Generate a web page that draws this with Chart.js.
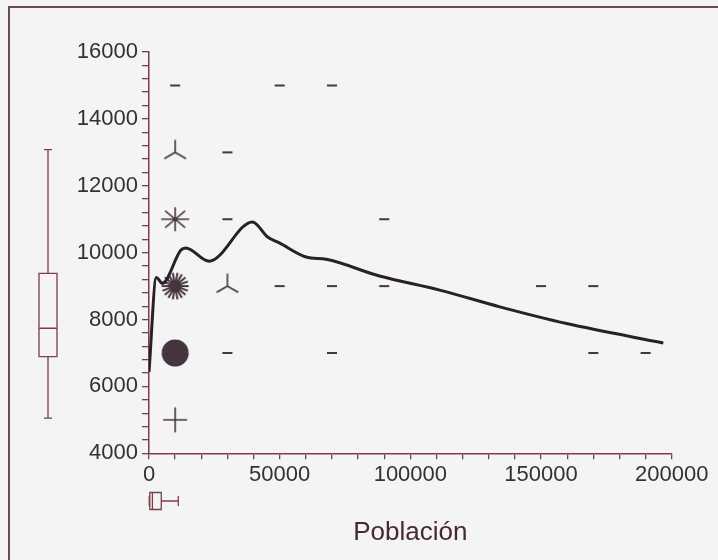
<!DOCTYPE html>
<html><head><meta charset="utf-8">
<script src="https://cdn.jsdelivr.net/npm/chart.js@4/dist/chart.umd.min.js"></script>
<style>html,body{margin:0;padding:0;background:#f5f4f4;}canvas{display:block;}</style>
</head><body>
<canvas id="c" width="718" height="560"></canvas>
<script>
// ---- data ----
const lineX = [0, 2800, 5100, 12150, 14070, 23000, 39600, 45400, 49900, 60100, 67800, 88200, 111200, 134200, 159800, 196800];
const lineY = [6430, 9260, 9080, 10070, 10140, 9745, 10920, 10470, 10290, 9870, 9800, 9300, 8880, 8380, 7880, 7300];

// sunflower cells: centre x, centre y, number of observations (petals)
const flowerX = [10000, 50000, 70000, 10000, 30000, 10000, 30000, 90000, 10000, 30000, 50000, 70000, 90000, 150000, 170000, 10000, 30000, 70000, 170000, 190000, 10000];
const flowerY = [15000, 15000, 15000, 13000, 13000, 11000, 11000, 11000, 9000, 9000, 9000, 9000, 9000, 9000, 9000, 7000, 7000, 7000, 7000, 7000, 5000];
const flowerN = [2, 2, 2, 3, 2, 8, 2, 2, 18, 3, 2, 2, 2, 2, 2, 60, 2, 2, 2, 2, 4];

// marginal box plots: min, q1, median, q3, max
const yBox = [5050, 6890, 7740, 9380, 13080];
const xBox = [100, 300, 1300, 4700, 11200];

const xLabelValues = [0, 50000, 100000, 150000, 200000];
const yLabelValues = [4000, 6000, 8000, 10000, 12000, 14000, 16000];
const xTitle = 'Población';

// ---- styling ----
const BG = '#f5f4f4';
const AXIS = '#7a3e48';
const MARK = '#44363f';
const LINE = '#2a2028';
const TXT = '#353033';
const FONT = "'Liberation Sans', Arial, sans-serif";

const cache = {};
function flower(n) {
  if (cache[n]) return cache[n];
  const c = document.createElement('canvas');
  c.width = 36; c.height = 36;
  const g = c.getContext('2d');
  g.translate(18, 18);
  g.strokeStyle = MARK; g.fillStyle = MARK;
  const rays = (list, w) => {
    g.lineWidth = w;
    g.beginPath();
    list.forEach(([d, len]) => {
      const a = d * Math.PI / 180;
      g.moveTo(0, 0);
      g.lineTo(Math.cos(a) * len, -Math.sin(a) * len);
    });
    g.stroke();
  };
  if (n === 2) {
    g.lineWidth = 2; g.beginPath(); g.moveTo(-5, 0); g.lineTo(5, 0); g.stroke();
  } else if (n === 3) {
    rays([[90, 12.5], [210, 12.5], [330, 12.5]], 1.6);
  } else if (n === 4) {
    rays([[0, 12], [90, 12.5], [180, 12], [270, 12.5]], 1.6);
  } else if (n <= 8) {
    rays([[0, 14], [40, 13], [90, 12], [140, 13], [180, 14], [220, 13], [270, 12], [320, 13]], 1.6);
  } else {
    const list = [];
    for (let i = 0; i < n; i++) list.push([i * 360 / n, 13.5]);
    rays(list, 2);
    g.beginPath();
    g.arc(0, 0, n > 30 ? 12.5 : 6, 0, Math.PI * 2);
    g.fill();
  }
  cache[n] = c;
  return c;
}

const deco = {
  id: 'deco',
  beforeDraw(chart) {
    const g = chart.ctx;
    g.save();
    g.fillStyle = BG;
    g.fillRect(0, 0, chart.width, chart.height);
    g.strokeStyle = '#6e4a50';
    g.lineWidth = 2;
    g.beginPath();
    g.moveTo(9, 560); g.lineTo(9, 7); g.lineTo(718, 7);
    g.stroke();
    g.restore();
  },
  afterDraw(chart) {
    const g = chart.ctx;
    const sx = chart.scales.x, sy = chart.scales.y;
    g.save();
    g.strokeStyle = AXIS;
    g.lineWidth = 1.3;
    // vertical box plot (y variable)
    const p = yBox.map(v => sy.getPixelForValue(v));
    const cx = 48, hw = 9, cap = 4;
    g.beginPath();
    g.moveTo(cx, p[0]); g.lineTo(cx, p[1]);
    g.moveTo(cx, p[3]); g.lineTo(cx, p[4]);
    g.moveTo(cx - cap, p[0]); g.lineTo(cx + cap, p[0]);
    g.moveTo(cx - cap, p[4]); g.lineTo(cx + cap, p[4]);
    g.moveTo(cx - hw, p[2]); g.lineTo(cx + hw, p[2]);
    g.rect(cx - hw, p[3], 2 * hw, p[1] - p[3]);
    g.stroke();
    // horizontal box plot (x variable)
    const q = xBox.map(v => sx.getPixelForValue(v));
    const cy = 501, hh = 8.5, capy = 5;
    g.beginPath();
    g.moveTo(q[0], cy); g.lineTo(q[1], cy);
    g.moveTo(q[3], cy); g.lineTo(q[4], cy);
    g.moveTo(q[0], cy - capy); g.lineTo(q[0], cy + capy);
    g.moveTo(q[4], cy - capy); g.lineTo(q[4], cy + capy);
    g.moveTo(q[2], cy - hh); g.lineTo(q[2], cy + hh);
    g.rect(q[1], cy - hh, q[3] - q[1], 2 * hh);
    g.stroke();
    g.restore();
  }
};

new Chart(document.getElementById('c'), {
  type: 'scatter',
  data: {
    datasets: [
      {
        data: lineX.map((x, i) => ({ x, y: lineY[i] })),
        showLine: true,
        borderColor: LINE,
        borderWidth: 3,
        pointRadius: 0,
        cubicInterpolationMode: 'monotone',
        order: 0
      },
      {
        data: flowerX.map((x, i) => ({ x, y: flowerY[i], n: flowerN[i] })),
        pointStyle: ctx => flower(ctx.raw ? ctx.raw.n : 2),
        pointRadius: 10,
        showLine: false,
        order: 1
      }
    ]
  },
  options: {
    responsive: false,
    devicePixelRatio: 1,
    animation: false,
    events: [],
    layout: { padding: { top: 52, right: 46.3, left: 0, bottom: 0 } },
    plugins: { legend: { display: false }, tooltip: { enabled: false } },
    scales: {
      x: {
        type: 'linear',
        min: 0, max: 200000,
        afterFit(s) { s.height = 560 - 453.3; },
        border: { display: true, color: AXIS, width: 1.5 },
        grid: { drawOnChartArea: false, drawTicks: true, tickLength: 6, color: AXIS, lineWidth: 1.3 },
        ticks: {
          stepSize: 10000, autoSkip: false, maxRotation: 0, padding: 2,
          color: TXT, font: { family: FONT, size: 22 },
          callback: v => xLabelValues.includes(Math.round(v)) ? String(Math.round(v)) : ''
        },
        title: {
          display: true, text: xTitle, color: '#45293a',
          font: { family: FONT, size: 26 }, padding: { top: 4, bottom: 12 }
        }
      },
      y: {
        type: 'linear',
        min: 4000, max: 16000,
        afterFit(s) { s.width = 149; },
        border: { display: true, color: AXIS, width: 1.5 },
        grid: { drawOnChartArea: false, drawTicks: true, tickLength: 7, color: AXIS, lineWidth: 1.3 },
        ticks: {
          stepSize: 400, autoSkip: false, padding: 4,
          color: TXT, font: { family: FONT, size: 22 },
          callback: v => yLabelValues.includes(Math.round(v)) ? String(Math.round(v)) : ''
        }
      }
    }
  },
  plugins: [deco]
});
</script>
</body></html>
